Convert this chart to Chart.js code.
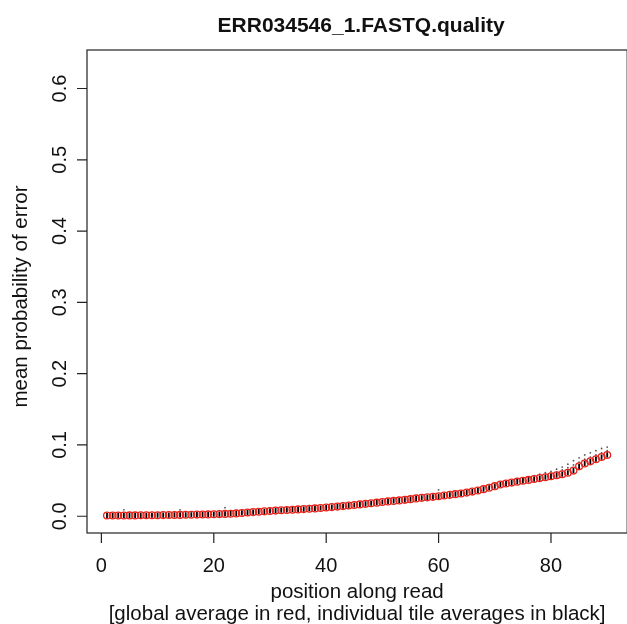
<!DOCTYPE html>
<html>
<head>
<meta charset="utf-8">
<script src="https://cdn.jsdelivr.net/npm/chart.js@4/dist/chart.umd.min.js"></script>
<style>
  html, body { margin: 0; padding: 0; background: #fff; overflow: hidden; }
  #wrap { width: 632px; height: 624px; }
</style>
</head>
<body>
<div id="wrap"><canvas id="c" width="632" height="624" style="width:632px;height:624px"></canvas></div>
<script>
// ---- data ----
const positions = Array.from({length: 90}, (_, i) => i + 1);
const globalMean = [
  0.0010, 0.0010, 0.0011, 0.0011, 0.0012, 0.0012, 0.0013, 0.0013, 0.0014, 0.0015,
  0.0016, 0.0017, 0.0018, 0.0019, 0.0020, 0.0021, 0.0023, 0.0024, 0.0026, 0.0028,
  0.0030, 0.0033, 0.0036, 0.0040, 0.0046, 0.0052, 0.0058, 0.0064, 0.0069, 0.0074,
  0.0079, 0.0084, 0.0088, 0.0092, 0.0096, 0.0100, 0.0105, 0.0110, 0.0116, 0.0122,
  0.0128, 0.0135, 0.0142, 0.0150, 0.0158, 0.0166, 0.0174, 0.0182, 0.0191, 0.0200,
  0.0208, 0.0215, 0.0222, 0.0230, 0.0240, 0.0250, 0.0258, 0.0265, 0.0272, 0.0280,
  0.0290, 0.0300, 0.0310, 0.0320, 0.0332, 0.0346, 0.0362, 0.0380, 0.0400, 0.0422,
  0.0445, 0.0460, 0.0472, 0.0485, 0.0497, 0.0510, 0.0522, 0.0535, 0.0548, 0.0560,
  0.0575, 0.0590, 0.0610, 0.0640, 0.0700, 0.0740, 0.0770, 0.0800, 0.0830, 0.0860
];
const tileOutlierPos = [4, 14, 22, 60, 74, 75, 76, 77, 78, 79, 80, 81, 82, 83, 84, 85, 86, 87, 88, 89, 90,
                        80, 81, 82, 83, 84, 85, 86, 87, 88, 89, 90];
const tileOutlierVal = [0.009, 0.009, 0.012, 0.037, 0.052, 0.053, 0.055, 0.057, 0.059, 0.061, 0.063, 0.066, 0.069, 0.073, 0.078, 0.082, 0.086, 0.089, 0.092, 0.095, 0.097,
                        0.060, 0.062, 0.065, 0.068, 0.072, 0.076, 0.080, 0.083, 0.086, 0.089, 0.092];
const xTicks = [0, 20, 40, 60, 80];
const yTicks = [0.0, 0.1, 0.2, 0.3, 0.4, 0.5, 0.6];
const yTickLabels = ['0.0', '0.1', '0.2', '0.3', '0.4', '0.5', '0.6'];
const titleText = 'ERR034546_1.FASTQ.quality';
const xTitle = ['position along read', '[global average in red, individual tile averages in black]'];
const yTitle = 'mean probability of error';

const FONT = '"Liberation Sans", Arial, Helvetica, sans-serif';

const rAxes = {
  id: 'rAxes',
  afterDraw(chart) {
    const ctx = chart.ctx, a = chart.chartArea;
    const xs = chart.scales.x, ys = chart.scales.y;
    ctx.save();
    ctx.strokeStyle = '#222';
    ctx.lineWidth = 1.2;
    ctx.strokeRect(a.left, a.top, a.right - a.left, a.bottom - a.top);
    ctx.beginPath();
    xTicks.forEach(v => {
      const px = xs.getPixelForValue(v);
      ctx.moveTo(px, a.bottom); ctx.lineTo(px, a.bottom + 10);
    });
    yTicks.forEach(v => {
      const py = ys.getPixelForValue(v);
      ctx.moveTo(a.left, py); ctx.lineTo(a.left - 10, py);
    });
    ctx.stroke();
    ctx.fillStyle = '#111';
    ctx.font = '20px ' + FONT;
    ctx.textAlign = 'center';
    ctx.textBaseline = 'middle';
    xTicks.forEach(v => {
      ctx.fillText(String(v), xs.getPixelForValue(v), 566);
    });
    yTicks.forEach((v, i) => {
      ctx.save();
      ctx.translate(60, ys.getPixelForValue(v));
      ctx.rotate(-Math.PI / 2);
      ctx.fillText(yTickLabels[i], 0, 0);
      ctx.restore();
    });
    const cx = (a.left + a.right) / 2, cy = (a.top + a.bottom) / 2;
    ctx.font = '20.5px ' + FONT;
    ctx.fillText(xTitle[0], cx, 592);
    ctx.fillText(xTitle[1], cx, 614);
    ctx.save();
    ctx.translate(21, cy + 5);
    ctx.rotate(-Math.PI / 2);
    ctx.fillText(yTitle, 0, 0);
    ctx.restore();
    ctx.font = 'bold 21px ' + FONT;
    ctx.fillText(titleText, cx + 4, 26);
    ctx.restore();
  }
};

new Chart(document.getElementById('c'), {
  type: 'scatter',
  data: {
    datasets: [
      {
        label: 'tile outliers',
        data: tileOutlierPos.map((p, i) => ({x: p, y: tileOutlierVal[i]})),
        pointStyle: 'circle', pointRadius: 0.9, borderWidth: 0,
        backgroundColor: '#555', order: 3
      },
      {
        label: 'tile averages',
        data: positions.map((p, i) => ({x: p, y: globalMean[i]})),
        pointStyle: 'line', rotation: 90, pointRadius: 2.6, borderWidth: 1.8,
        borderColor: '#000', order: 2
      },
      {
        label: 'global average',
        data: positions.map((p, i) => ({x: p, y: globalMean[i]})),
        pointStyle: 'circle', pointRadius: 3.4, borderWidth: 1.3,
        borderColor: '#e8231b', backgroundColor: 'rgba(0,0,0,0)', order: 1
      }
    ]
  },
  options: {
    responsive: false,
    animation: false,
    devicePixelRatio: 1,
    layout: { padding: { left: 87, top: 50, right: 3, bottom: 91 } },
    scales: {
      x: { type: 'linear', display: false, min: -2.56, max: 93.56 },
      y: { type: 'linear', display: false, min: -0.0235, max: 0.654 }
    },
    plugins: { legend: { display: false }, tooltip: { enabled: false }, title: { display: false } },
    elements: { point: { hoverRadius: 3 } }
  },
  plugins: [rAxes]
});
</script>
</body>
</html>
